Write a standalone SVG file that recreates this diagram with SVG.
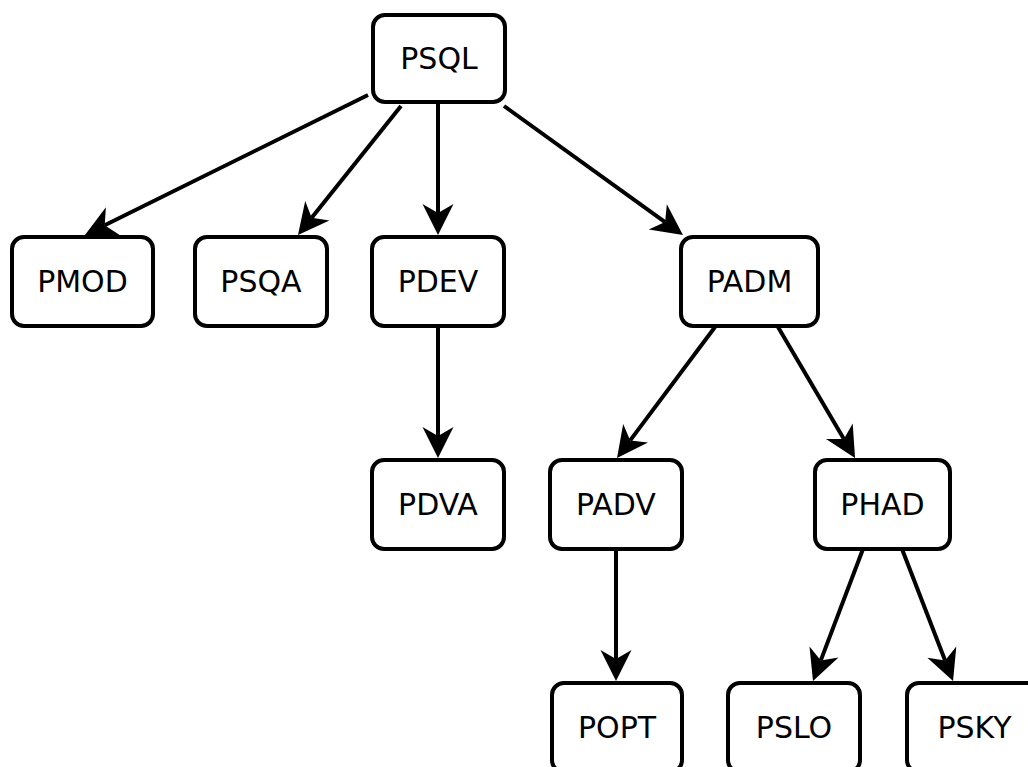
<svg xmlns="http://www.w3.org/2000/svg" width="1028" height="767" viewBox="0 0 1028 767">
<style>
.box{fill:#fff;stroke:#000;stroke-width:4}
.lbl{font-family:"DejaVu Sans",sans-serif;font-size:30px;fill:#000;text-anchor:middle}
.edge{stroke:#000;stroke-width:4;fill:none;marker-end:url(#ah)}
</style>
<defs>
<marker id="ah" markerUnits="userSpaceOnUse" viewBox="-12 -18 36 36" refX="0" refY="0" markerWidth="36" markerHeight="36" orient="auto" overflow="visible">
<path d="M22,0 L-9,-15.5 L0,0 L-9,15.5 Z" fill="#000"/>
</marker>
</defs>
<rect width="1028" height="767" fill="#fff"/>
<g id="connectors">
<line class="edge" x1="368" y1="95" x2="104.7" y2="225.2"/>
<line class="edge" x1="401" y1="106" x2="311.7" y2="217.8"/>
<line class="edge" x1="438" y1="103" x2="438" y2="213"/>
<line class="edge" x1="504" y1="106" x2="665.1" y2="222.1"/>
<line class="edge" x1="438" y1="326" x2="438" y2="436"/>
<line class="edge" x1="715" y1="327" x2="630.2" y2="440.4"/>
<line class="edge" x1="778" y1="327" x2="843.9" y2="439"/>
<line class="edge" x1="616" y1="549" x2="616" y2="659"/>
<line class="edge" x1="863" y1="549" x2="820.8" y2="660.4"/>
<line class="edge" x1="902" y1="549" x2="945.1" y2="660.5"/>
</g>
<g id="PSQL"><rect class="box" x="373" y="15" width="132" height="87" rx="12"/><text class="lbl" x="439" y="69">PSQL</text></g>
<g id="PMOD"><rect class="box" x="12" y="237" width="141" height="89" rx="12"/><text class="lbl" x="82.5" y="292">PMOD</text></g>
<g id="PSQA"><rect class="box" x="195" y="237" width="132" height="89" rx="12"/><text class="lbl" x="261" y="292">PSQA</text></g>
<g id="PDEV"><rect class="box" x="372" y="237" width="132" height="89" rx="12"/><text class="lbl" x="438" y="292">PDEV</text></g>
<g id="PADM"><rect class="box" x="681" y="237" width="137" height="89" rx="12"/><text class="lbl" x="749.5" y="292">PADM</text></g>
<g id="PDVA"><rect class="box" x="372" y="460" width="132" height="89" rx="12"/><text class="lbl" x="438" y="515">PDVA</text></g>
<g id="PADV"><rect class="box" x="550" y="460" width="132" height="89" rx="12"/><text class="lbl" x="616" y="515">PADV</text></g>
<g id="PHAD"><rect class="box" x="815" y="460" width="135" height="89" rx="12"/><text class="lbl" x="882.5" y="515">PHAD</text></g>
<g id="POPT"><rect class="box" x="552" y="683" width="130" height="89" rx="12"/><text class="lbl" x="617" y="738">POPT</text></g>
<g id="PSLO"><rect class="box" x="728" y="683" width="132" height="89" rx="12"/><text class="lbl" x="794" y="738">PSLO</text></g>
<g id="PSKY"><rect class="box" x="907" y="683" width="135" height="89" rx="12"/><text class="lbl" x="974.5" y="738">PSKY</text></g>
</svg>
